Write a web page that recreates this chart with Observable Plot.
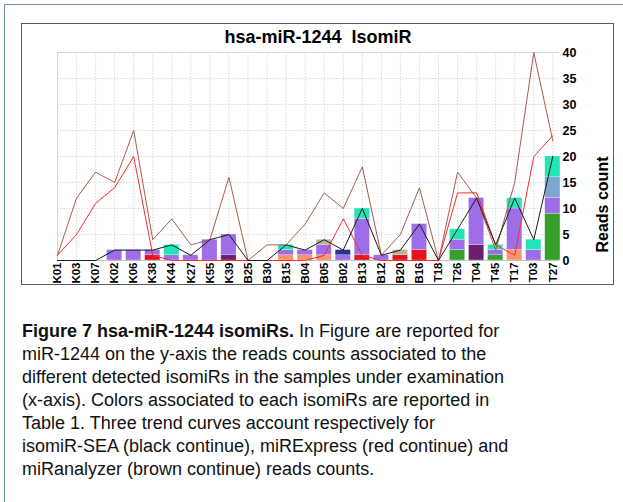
<!DOCTYPE html>
<html>
<head>
<meta charset="utf-8">
<script src="https://cdn.jsdelivr.net/npm/d3@7"></script>
<script src="https://cdn.jsdelivr.net/npm/@observablehq/plot@0.6"></script>
<style>
  html, body { margin: 0; padding: 0; background: #fff; }
  #page { position: relative; width: 623px; height: 502px; overflow: hidden; font-family: "Liberation Sans", Arial, sans-serif; }
  #outer { position: absolute; left: 4px; top: 4px; width: 640px; height: 520px; border-left: 1.5px solid #6f8db3; border-top: 1.5px solid #6f8db3; }
  #frame { position: absolute; left: 21px; top: 23px; width: 591px; height: 260px; border: 1.5px solid #5a5a5a; }
  #chart { position: absolute; left: 0; top: 0; }
  #chart svg text { font-weight: 700; fill: #000; }
  #title { position: absolute; left: 0; width: 636px; top: 27px; text-align: center; font-weight: 700; font-size: 18px; line-height: 20px; color: #000; }
  #caption { position: absolute; left: 22px; top: 320px; font-size: 18px; line-height: 23px; color: #111; }
  #caption div { white-space: nowrap; height: 23px; }
</style>
</head>
<body>
<div id="page">
  <div id="outer"></div>
  <div id="frame"></div>
  <div id="chart"></div>
  <div id="title">hsa-miR-1244&nbsp;&nbsp;IsomiR</div>
  <div id="caption"></div>
</div>
<script>
// ---- data ----
const samples = ["K01","K03","K07","K02","K06","K38","K44","K27","K55","K39",
                 "B25","B30","B15","B04","B05","B02","B13","B12","B20","B16",
                 "T18","T26","T04","T45","T17","T03","T27"];

// isomiR read counts per sample (stacked bottom -> top)
const isoRed        = [0,0,0,0,0,1,0,0,0,0, 0,0,0,0,0,0,1,0,1,2, 0,0,0,0,0,0,0];
const isoDarkPurple = [0,0,0,0,0,0,0,0,0,1, 0,0,0,0,0,0,0,0,0,0, 0,0,3,0,0,0,0];
const isoSalmon     = [0,0,0,0,0,0,0,0,0,0, 0,0,1,1,1,0,0,0,0,0, 0,0,0,0,2,0,0];
const isoGreen      = [0,0,0,0,0,0,0,0,0,0, 0,0,0,0,0,0,0,0,0,0, 0,2,0,1,0,0,9];
const isoPurple     = [0,0,0,2,2,1,1,1,4,4, 0,0,1,1,2,1,7,1,0,5, 0,2,9,1,8,2,3];
const isoNavy       = [0,0,0,0,0,0,0,0,0,0, 0,0,0,0,0,1,0,0,0,0, 0,0,0,0,0,0,0];
const isoSteel      = [0,0,0,0,0,0,0,0,0,0, 0,0,0,0,0,0,0,0,0,0, 0,0,0,0,0,0,4];
const isoTeal       = [0,0,0,0,0,0,2,0,0,0, 0,0,1,0,0,0,2,0,0,0, 0,2,0,1,2,2,4];
const isoGray       = [0,0,0,0,0,0,0,0,0,0, 0,0,0,0,1,0,0,0,1,0, 0,0,0,0,0,0,0];

const seriesNames  = ["red","darkpurple","salmon","green","purple","navy","steel","teal","gray"];
const seriesColors = ["#e3121c","#6b1f6e","#f7946a","#37a02c","#9d6ee8","#2c318e","#7ea7cf","#22e5b5","#b4b39c"];

// trend curves
const isomirSEA   = [0,0,0,2,2,2,3,1,4,5, 0,0,3,2,4,2,10,1,2,7, 0,6,12,3,12,4,20];
const miRExpress  = [1,5,11,14,20,1,0,0,0,0, 0,0,0,0,1,8,1,0,0,0, 0,13,13,3,1,20,24];
const miRanalyzer = [1,12,17,15,25,4,8,3,4,16, 0,3,3,7,13,10,18,1,5,14, 0,17,12,2,15,40,23];

const yTicks = [0,5,10,15,20,25,30,35,40];

// ---- build tables ----
const seriesValues = [isoRed, isoDarkPurple, isoSalmon, isoGreen, isoPurple, isoNavy, isoSteel, isoTeal, isoGray];
const barRows = [];
samples.forEach((s, i) => {
  let acc = 0;
  seriesValues.forEach((vals, k) => {
    const v = vals[i];
    if (v > 0) {
      barRows.push({i, sample: s, series: seriesNames[k], y1: acc, y2: acc + v});
      acc += v;
    }
  });
});
const lineRows = samples.map((s, i) => ({i, sample: s, sea: isomirSEA[i], mirexpress: miRExpress[i], miranalyzer: miRanalyzer[i]}));
const idx = samples.map((_, i) => i);

const chart = Plot.plot({
  width: 623,
  height: 290,
  marginLeft: 57,
  marginRight: 64,
  marginTop: 52,
  marginBottom: 30,
  style: {background: "transparent", fontFamily: "'Liberation Sans', Arial, sans-serif", fontSize: "11.5px", overflow: "visible"},
  x: {type: "linear", domain: [0, 26.35], ticks: idx, tickFormat: i => samples[i], tickRotate: -90, tickSize: 0, tickPadding: 2, label: null, line: false},
  y: {domain: [0, 40], axis: "right", ticks: yTicks, tickSize: 0, tickPadding: 3, label: null},
  color: {type: "ordinal", domain: seriesNames, range: seriesColors},
  marks: [
    Plot.ruleX(idx, {x: d => d, stroke: "#cfcfcf", strokeWidth: 0.8, strokeDasharray: "1.5,1.5"}),
    Plot.ruleY(yTicks, {y: d => d, stroke: "#cfcfcf", strokeWidth: 0.8, strokeDasharray: "1.5,1.5"}),
    Plot.ruleX([0], {x: d => d, stroke: "#d4d4d4", strokeWidth: 1}),
    Plot.ruleY([40], {y: d => d, stroke: "#d9d9d9", strokeWidth: 1}),
    Plot.rect(barRows, {x1: d => d.i - 0.4, x2: d => d.i + 0.4, y1: "y1", y2: "y2", fill: "series", stroke: "#ffffff", strokeOpacity: 0.5, strokeWidth: 0.5}),
    Plot.ruleY([0], {y: d => d, stroke: "#bfbfbf", strokeWidth: 1}),
    Plot.line(lineRows, {x: "i", y: "miranalyzer", stroke: "#a85a4e", strokeWidth: 1}),
    Plot.line(lineRows, {x: "i", y: "mirexpress", stroke: "#ff2a2a", strokeWidth: 1}),
    Plot.line(lineRows, {x: "i", y: "sea", stroke: "#1a1a1a", strokeWidth: 1}),
    Plot.text(["Reads count"], {frameAnchor: "right", dx: 43, rotate: -90, text: d => d, fontSize: 16, fontWeight: "bold", fill: "#000"})
  ]
});
document.getElementById("chart").appendChild(chart);
// slightly larger y tick labels
chart.querySelectorAll('g[aria-label^="y-axis"] text').forEach(t => t.style.fontSize = "12.5px");

// ---- caption ----
const captionBold = "Figure 7 hsa-miR-1244 isomiRs.";
const captionLines = [
  "In Figure are reported for",
  "miR-1244 on the y-axis the reads counts associated to the",
  "different detected isomiRs in the samples under examination",
  "(x-axis). Colors associated to each isomiRs are reported in",
  "Table 1. Three trend curves account respectively for",
  "isomiR-SEA (black continue), miRExpress (red continue) and",
  "miRanalyzer (brown continue) reads counts."
];
const cap = document.getElementById("caption");
captionLines.forEach((line, k) => {
  const div = document.createElement("div");
  if (k === 0) {
    const b = document.createElement("b");
    b.textContent = captionBold;
    div.appendChild(b);
    const sp = document.createElement("span");
    sp.textContent = "\u00a0" + line;
    div.appendChild(sp);
  } else {
    div.textContent = line;
  }
  cap.appendChild(div);
});
</script>
</body>
</html>
